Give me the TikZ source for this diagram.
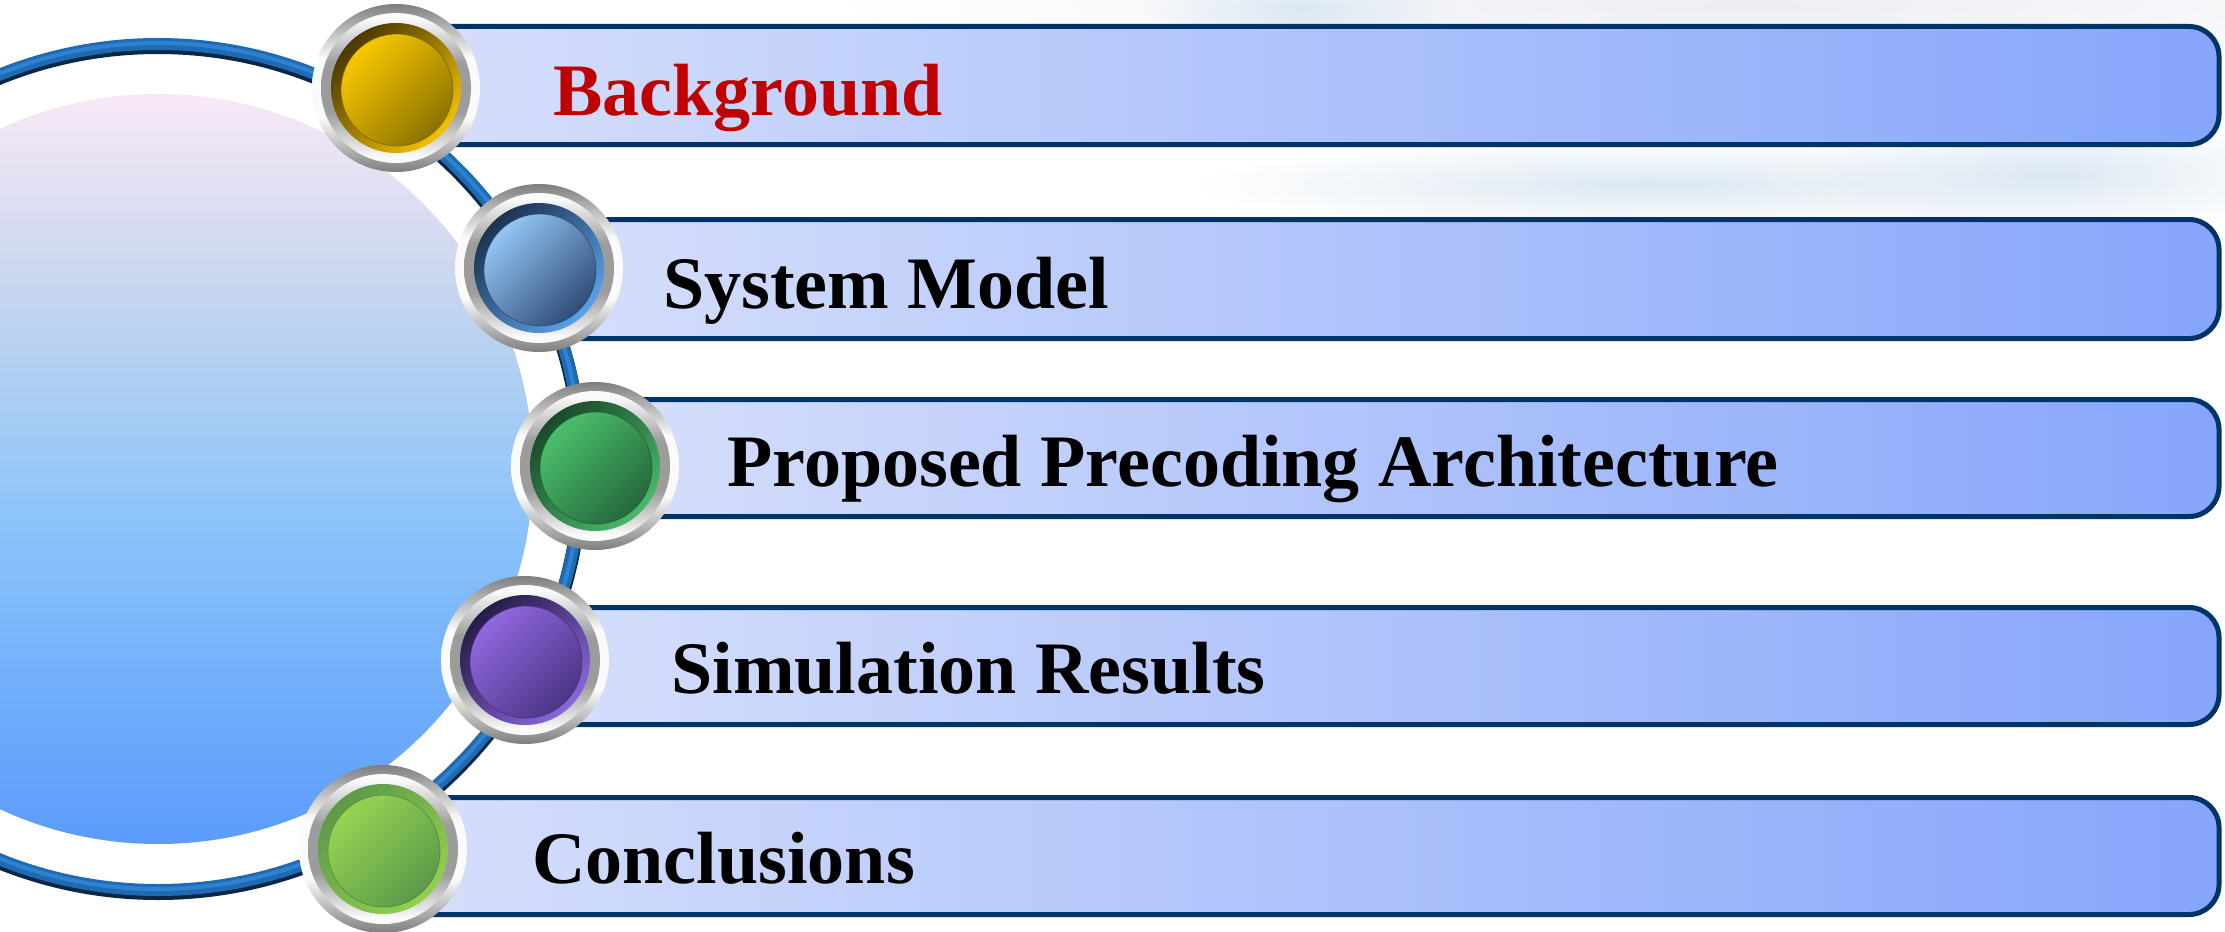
\documentclass[tikz,border=0pt]{standalone}
\usepackage{fontspec}
\setmainfont{Liberation Serif}
\usetikzlibrary{fadings}
\tikzfading[name=softblob, inner color=transparent!0, outer color=transparent!100]
\definecolor{barline}{HTML}{003366}
\definecolor{barL}{HTML}{D7E0FB}
\definecolor{barR}{HTML}{86A5FB}
\definecolor{titlered}{HTML}{C00000}
\definecolor{ringblue}{HTML}{1F6BB3}
\definecolor{ringlight}{HTML}{2F82CF}
\definecolor{ringdarkc}{HTML}{0A2746}
\definecolor{circtop}{HTML}{F9E8F7}
\definecolor{circgray}{HTML}{C6D6EE}
\definecolor{circmid}{HTML}{8AC3FA}
\definecolor{circbot}{HTML}{5B9BFC}
\definecolor{silverD}{HTML}{7E7E7E}
\definecolor{silverM}{HTML}{9C9C9C}
\definecolor{silverW}{HTML}{FAFAFA}
\definecolor{hazeG}{HTML}{EDEFF4}
\definecolor{hazeB}{HTML}{DCE8F3}
\pgfdeclareverticalshading{discshade}{100bp}{color(0bp)=(circbot); color(25bp)=(circbot); color(46bp)=(circmid); color(62bp)=(circgray); color(75bp)=(circtop); color(100bp)=(circtop)}
\pgfdeclareverticalshading{silverouter}{100bp}{color(0bp)=(silverD); color(25bp)=(silverD); color(41bp)=(silverW); color(59bp)=(silverW); color(75bp)=(silverD); color(100bp)=(silverD)}
\pgfdeclareverticalshading{silverinner}{100bp}{color(0bp)=(silverW); color(27bp)=(silverW); color(42bp)=(silverM); color(58bp)=(silverM); color(73bp)=(silverW); color(100bp)=(silverW)}
% bullet colours: ring dark, ring bright, disc bright, disc dark
\definecolor{yRd}{HTML}{4A3800}\definecolor{yRb}{HTML}{F2C200}\definecolor{yDb}{HTML}{FAC800}\definecolor{yDd}{HTML}{8C7300}
\definecolor{bRd}{HTML}{1C3350}\definecolor{bRb}{HTML}{5AA2EA}\definecolor{bDb}{HTML}{94C6F4}\definecolor{bDd}{HTML}{304C78}
\definecolor{gRd}{HTML}{1B4A2A}\definecolor{gRb}{HTML}{48B96A}\definecolor{gDb}{HTML}{4ABF6C}\definecolor{gDd}{HTML}{25683C}
\definecolor{pRd}{HTML}{261C48}\definecolor{pRb}{HTML}{8A66DD}\definecolor{pDb}{HTML}{9068E0}\definecolor{pDd}{HTML}{4B3584}
\definecolor{lRd}{HTML}{5E9A48}\definecolor{lRb}{HTML}{92D050}\definecolor{lDb}{HTML}{96D454}\definecolor{lDd}{HTML}{5C9A4A}
\newcommand\tocbullet[5]{%
  \shade[shading=silverouter] (#1) circle (84);
  \shade[shading=silverinner] (#1) circle (75);
  \shade[top color=#2, bottom color=#3, shading angle=45] (#1) circle (65);
  \shade[top color=#4, bottom color=#5, shading angle=45] ([shift={(1,2)}]#1) circle (56);
  \draw[#5!70!black, line width=0.4pt, opacity=0.5] ([shift={(1,2)}]#1) circle (56);
}
\newcommand\tocbar[3]{%
  \path[draw=barline, line width=2.5pt, left color=barL, right color=barR, rounded corners=15pt]
    (#1,#2) rectangle (2219,#3);
}
\tikzset{toctext/.style={anchor=base west, inner sep=0pt, font=\fontsize{37pt}{40pt}\selectfont\bfseries}}
\begin{document}
\begin{tikzpicture}[x=0.5pt,y=-0.5pt]
\useasboundingbox (0,0) rectangle (2225,931);
\clip (0,0) rectangle (2225,931);
\fill[white] (0,0) rectangle (2225,931);
% faint background haze
\fill[hazeG, path fading=softblob] (1750,5) ellipse (900 and 70);
\fill[hazeB, path fading=softblob] (1300,10) ellipse (160 and 40);
\fill[hazeB, path fading=softblob] (1650,185) ellipse (450 and 45);
\fill[hazeB, path fading=softblob] (2050,175) ellipse (260 and 60);
% big ring
\draw[ringdarkc, line width=7pt] (158,470) circle (423);
\draw[ringblue, line width=6pt] (158,467) circle (423);
\draw[ringlight, line width=2pt] (158,466) circle (423);
% filled disc
\shade[shading=discshade] (158,469) circle (375);
% bullet positions
\coordinate (b1) at (396,88);
\coordinate (b2) at (539,268);
\coordinate (b3) at (595,466);
\coordinate (b4) at (525,660);
\coordinate (b5) at (383,849);
% bars
\tocbar{396}{26.5}{144.5}
\tocbar{539}{219.5}{338.5}
\tocbar{595}{399.5}{516.5}
\tocbar{525}{607.5}{724.5}
\tocbar{383}{797.5}{914.5}
% texts
\node[toctext, text=titlered] (t1) at (553,116) {Background};
\node[toctext] (t2) at (663,308) {System Model};
\node[toctext] (t3) at (727,486) {Proposed Precoding Architecture};
\node[toctext] (t4) at (671,693) {Simulation Results};
\node[toctext] (t5) at (532,883) {Conclusions};
% bullets
\tocbullet{b1}{yRd}{yRb}{yDb}{yDd}
\tocbullet{b2}{bRd}{bRb}{bDb}{bDd}
\tocbullet{b3}{gRd}{gRb}{gDb}{gDd}
\tocbullet{b4}{pRd}{pRb}{pDb}{pDd}
\tocbullet{b5}{lRd}{lRb}{lDb}{lDd}
\end{tikzpicture}
\end{document}
